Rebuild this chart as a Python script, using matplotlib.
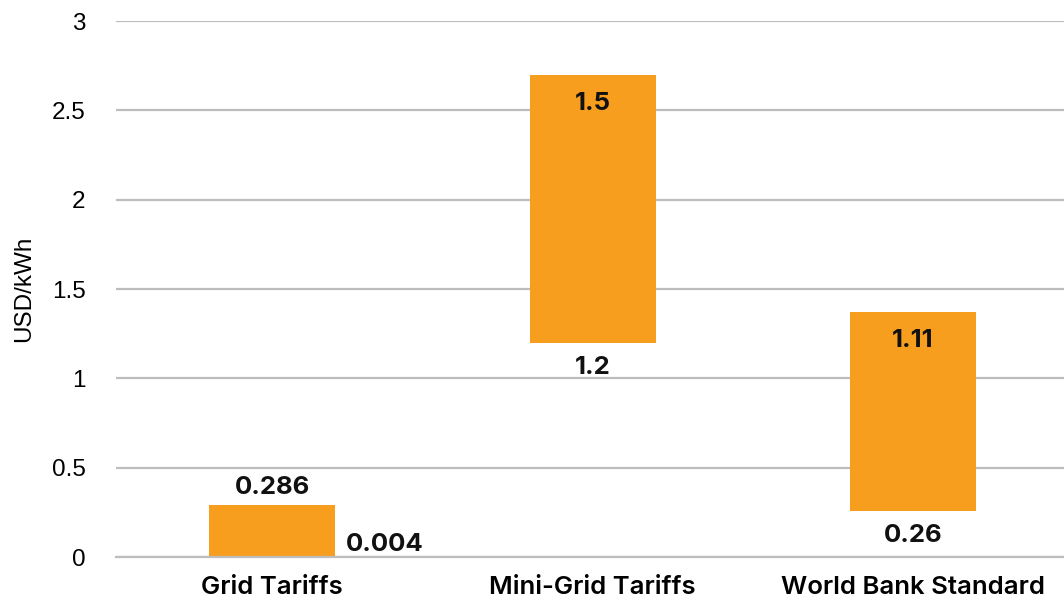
import matplotlib.pyplot as plt

categories = ['Grid Tariffs', 'Mini-Grid Tariffs', 'World Bank Standard']
low = [0.004, 1.2, 0.26]
span = [0.286, 1.5, 1.11]
low_labels = ['0.004', '1.2', '0.26']
span_labels = ['0.286', '1.5', '1.11']

orange = '#F79E1F'
grid_c = '#BDBDBD'

fig = plt.figure(figsize=(10.64, 6.04), dpi=100)
ax = fig.add_axes([0.109, 0.0778, 0.891, 0.8874])

x = range(len(categories))
ax.bar(x, low, width=0.393, color='none')
bars = ax.bar(x, span, bottom=low, width=0.393, color=orange)

ax.set_ylim(0, 3)
ax.set_xlim(-0.487, 2.471)
ax.set_yticks([0, 0.5, 1, 1.5, 2, 2.5, 3])
ax.set_yticklabels(['0', '0.5', '1', '1.5', '2', '2.5', '3'],
                   fontsize=17.5, family='Liberation Sans')
ax.yaxis.grid(True, color=grid_c, lw=1.6)
ax.set_axisbelow(True)
for s in ['top', 'right', 'left']:
    ax.spines[s].set_visible(False)
ax.spines['bottom'].set_color(grid_c)
ax.spines['bottom'].set_linewidth(1.6)
ax.tick_params(axis='y', length=0, pad=22)
ax.tick_params(axis='x', length=0, pad=14)
ax.set_xticks(list(x))
ax.set_xticklabels(categories, fontsize=18.5, family='Inter', fontweight='semibold')
ax.set_ylabel('USD/kWh', fontsize=17.5, family='Liberation Sans', labelpad=12)

lab = dict(fontsize=18.5, family='Inter', fontweight='bold', color='#111111')
# Grid tariffs: span label above, low label to the right
ax.text(0, low[0] + span[0] + 0.1, span_labels[0], ha='center', va='center', **lab)
ax.text(0.353, 0.07, low_labels[0], ha='center', va='center', **lab)
# others: span label inside top, low label under bar
for i in [1, 2]:
    ax.text(i, low[i] + span[i] - 0.16, span_labels[i], ha='center', va='center', **lab)
    ax.text(i, low[i] - 0.14, low_labels[i], ha='center', va='center', **lab)

fig.savefig('out.png', dpi=100)
